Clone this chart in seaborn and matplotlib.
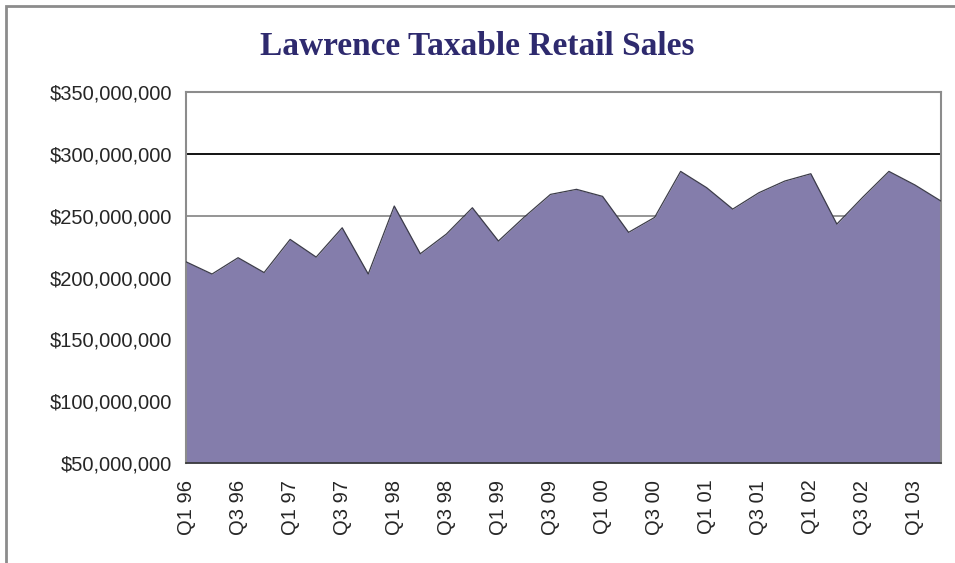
import numpy as np
import pandas as pd
import seaborn as sns
from matplotlib import pyplot as plt
from matplotlib.patches import Rectangle
from matplotlib.ticker import FuncFormatter

# quarterly taxable retail sales (Q1 1996 - Q2 2003)
quarters = ["Q1 96", "Q2 96", "Q3 96", "Q4 96", "Q1 97", "Q2 97", "Q3 97", "Q4 97",
            "Q1 98", "Q2 98", "Q3 98", "Q4 98", "Q1 99", "Q2 99", "Q3 09", "Q4 99",
            "Q1 00", "Q2 00", "Q3 00", "Q4 00", "Q1 01", "Q2 01", "Q3 01", "Q4 01",
            "Q1 02", "Q2 02", "Q3 02", "Q4 02", "Q1 03", "Q2 03"]
sales = [212.7, 202.8, 216.0, 204.0, 230.8, 216.5, 240.2, 202.8,
         257.8, 219.2, 235.1, 256.4, 229.5, 249.0, 267.2, 271.3,
         265.6, 236.5, 248.6, 285.8, 272.6, 255.3, 268.5, 278.0,
         283.9, 243.2, 265.0, 285.8, 274.8, 261.8]
y_ticks = [50e6, 100e6, 150e6, 200e6, 250e6, 300e6, 350e6]

df = pd.DataFrame({"pos": np.arange(len(quarters)), "quarter": quarters,
                   "sales": np.array(sales) * 1e6})

sns.set_style("white")
plt.rcParams['font.family'] = ['Liberation Sans', 'DejaVu Sans']

fig = plt.figure(figsize=(9.55, 5.63), dpi=100)
ax = fig.add_axes([186 / 955, 1 - 463 / 563, (941 - 186) / 955, (463 - 92) / 563])

# gridlines behind the area
for t in y_ticks[1:-1]:
    ax.axhline(t, color="black" if t == 300e6 else "#8c8c8c", lw=1.3, zorder=0)

ax.fill_between(df["pos"], 50e6, df["sales"], color="#847DAB", lw=0, zorder=2)
sns.lineplot(x="pos", y="sales", data=df, color="#3c3c4a", lw=0.9, ax=ax, zorder=3)

ax.set_xlim(0, len(quarters) - 1)
ax.set_ylim(50e6, 350e6)
ax.set_yticks(y_ticks)
ax.yaxis.set_major_formatter(FuncFormatter(lambda v, p: f"${v:,.0f}"))
ax.set_xticks(df["pos"])
ax.set_xticklabels([q if i % 2 == 0 else "" for i, q in enumerate(quarters)],
                   rotation=90)
ax.tick_params(axis="x", length=8, width=1.5, color="#808080", labelsize=14.5, pad=4)
ax.tick_params(axis="y", length=7, width=1.5, color="#808080", labelsize=14.5, pad=3)
ax.set_xlabel("")
ax.set_ylabel("")

for side in ["left", "top", "right"]:
    ax.spines[side].set_color("#8c8c8c")
    ax.spines[side].set_linewidth(1.5)
ax.spines["bottom"].set_color("#333333")
ax.spines["bottom"].set_linewidth(1.2)
ax.spines["bottom"].set_zorder(4)

fig.text(477 / 955, 1 - 55 / 563, "Lawrence Taxable Retail Sales",
         ha="center", va="baseline", fontsize=24, fontweight="bold",
         family=["Liberation Serif", "DejaVu Serif"], color="#2E2A6E")

# outer chart border
fig.patches.append(Rectangle((6 / 955, -0.1), 1.2, 1 - 6 / 563 + 0.1,
                             transform=fig.transFigure, fill=False,
                             edgecolor="#8c8c8c", lw=2))

fig.savefig("out.png", dpi=100)
